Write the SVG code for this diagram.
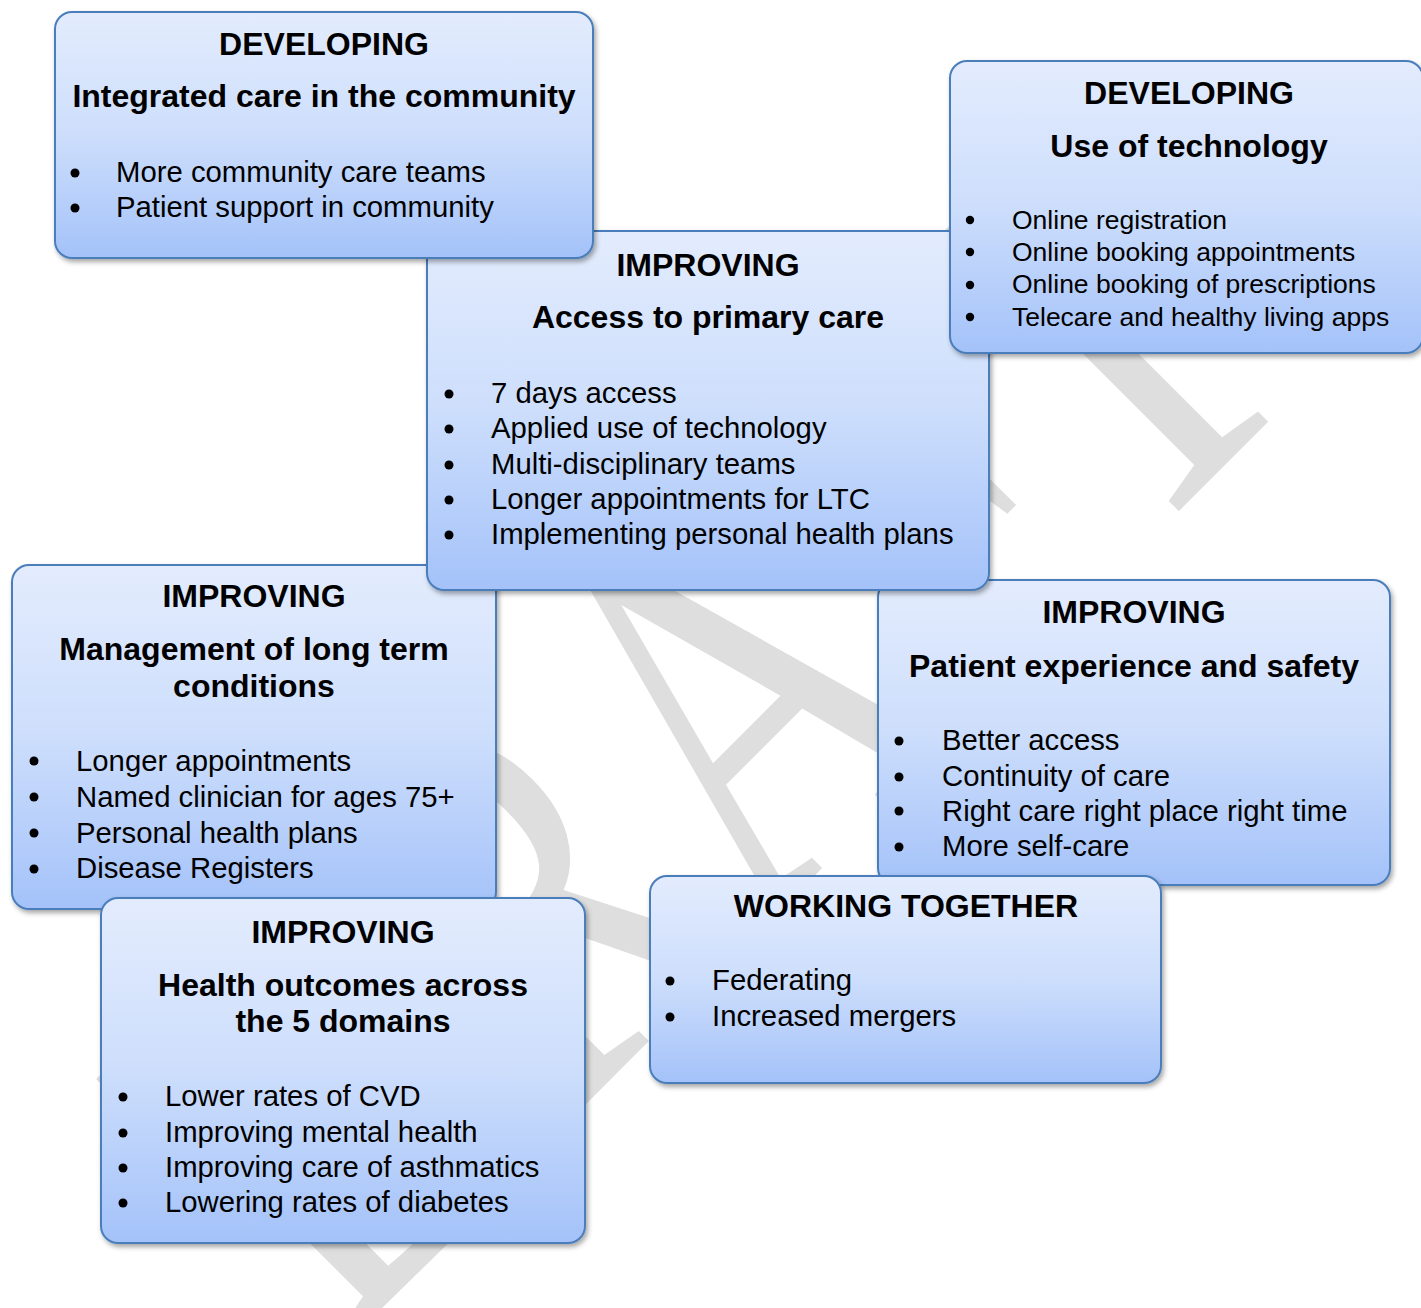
<svg xmlns="http://www.w3.org/2000/svg" width="1421" height="1308" viewBox="0 0 1421 1308">
  <defs>
    <linearGradient id="boxFill" x1="0" y1="0" x2="0" y2="1">
      <stop offset="0" stop-color="#e3ecfd"/>
      <stop offset="0.5" stop-color="#cddefc"/>
      <stop offset="1" stop-color="#a4c2f9"/>
    </linearGradient>
    <filter id="shadow" x="-5%" y="-5%" width="112%" height="115%">
      <feDropShadow dx="2" dy="3" stdDeviation="2.5" flood-color="#000" flood-opacity="0.35"/>
    </filter>
    <style>
      .box { fill: url(#boxFill); stroke: #4a7ebb; stroke-width: 2; filter: url(#shadow); }
      .head { font-family: "Liberation Sans", Arial, sans-serif; font-weight: bold; font-size: 32px; text-anchor: middle; fill: #000; }
      .item { font-family: "Liberation Sans", Arial, sans-serif; font-size: 29.3px; fill: #000; }
      .small { font-size: 26.5px; }
      .dot { fill: #000; }
      .mark { font-family: "Liberation Serif", "Times New Roman", serif; font-size: 418px; fill: #dedede; }
    </style>
  </defs>

  <rect width="1421" height="1308" fill="#fff"/>

  <!-- background watermark -->
  <text class="mark" transform="translate(345,1345) rotate(-45) scale(1,1.33)">DRAFT</text>

  <g id="connectors"/>

  <!-- Management of long term conditions -->
  <g id="node-ltc">
    <rect class="box" x="12" y="565" width="484" height="344" rx="17"/>
    <text class="head" x="254" y="607">IMPROVING</text>
    <text class="head" x="254" y="660">Management of long term</text>
    <text class="head" x="254" y="697">conditions</text>
    <circle class="dot" cx="34" cy="761" r="4.5"/>
    <circle class="dot" cx="34" cy="797" r="4.5"/>
    <circle class="dot" cx="34" cy="833" r="4.5"/>
    <circle class="dot" cx="34" cy="869" r="4.5"/>
    <text class="item" x="76" y="771">Longer appointments</text>
    <text class="item" x="76" y="807">Named clinician for ages 75+</text>
    <text class="item" x="76" y="843">Personal health plans</text>
    <text class="item" x="76" y="878">Disease Registers</text>
  </g>

  <!-- Patient experience and safety -->
  <g id="node-patient">
    <rect class="box" x="878" y="580" width="512" height="305" rx="17"/>
    <text class="head" x="1134" y="623">IMPROVING</text>
    <text class="head" x="1134" y="677">Patient experience and safety</text>
    <circle class="dot" cx="899" cy="741" r="4.5"/>
    <circle class="dot" cx="899" cy="777" r="4.5"/>
    <circle class="dot" cx="899" cy="811" r="4.5"/>
    <circle class="dot" cx="899" cy="847" r="4.5"/>
    <text class="item" x="942" y="750">Better access</text>
    <text class="item" x="942" y="786">Continuity of care</text>
    <text class="item" x="942" y="821">Right care right place right time</text>
    <text class="item" x="942" y="856">More self-care</text>
  </g>

  <!-- Access to primary care -->
  <g id="node-access">
    <rect class="box" x="427" y="231" width="562" height="359" rx="17"/>
    <text class="head" x="708" y="276">IMPROVING</text>
    <text class="head" x="708" y="328">Access to primary care</text>
    <circle class="dot" cx="449" cy="394" r="4.5"/>
    <circle class="dot" cx="449" cy="429" r="4.5"/>
    <circle class="dot" cx="449" cy="465" r="4.5"/>
    <circle class="dot" cx="449" cy="500" r="4.5"/>
    <circle class="dot" cx="449" cy="535" r="4.5"/>
    <text class="item" x="491" y="403">7 days access</text>
    <text class="item" x="491" y="438">Applied use of technology</text>
    <text class="item" x="491" y="474">Multi-disciplinary teams</text>
    <text class="item" x="491" y="509">Longer appointments for LTC</text>
    <text class="item" x="491" y="544">Implementing personal health plans</text>
  </g>

  <!-- Integrated care in the community -->
  <g id="node-community">
    <rect class="box" x="55" y="12" width="538" height="246" rx="17"/>
    <text class="head" x="324" y="55">DEVELOPING</text>
    <text class="head" x="324" y="107">Integrated care in the community</text>
    <circle class="dot" cx="75" cy="173" r="4.5"/>
    <circle class="dot" cx="75" cy="208" r="4.5"/>
    <text class="item" x="116" y="182">More community care teams</text>
    <text class="item" x="116" y="217">Patient support in community</text>
  </g>

  <!-- Use of technology -->
  <g id="node-technology">
    <rect class="box" x="950" y="61" width="473" height="292" rx="17"/>
    <text class="head" x="1189" y="104">DEVELOPING</text>
    <text class="head" x="1189" y="157">Use of technology</text>
    <circle class="dot" cx="970" cy="220" r="4.2"/>
    <circle class="dot" cx="970" cy="252" r="4.2"/>
    <circle class="dot" cx="970" cy="285" r="4.2"/>
    <circle class="dot" cx="970" cy="317" r="4.2"/>
    <text class="item small" x="1012" y="229">Online registration</text>
    <text class="item small" x="1012" y="261">Online booking appointments</text>
    <text class="item small" x="1012" y="293">Online booking of prescriptions</text>
    <text class="item small" x="1012" y="326">Telecare and healthy living apps</text>
  </g>

  <!-- Health outcomes across the 5 domains -->
  <g id="node-outcomes">
    <rect class="box" x="101" y="898" width="484" height="345" rx="17"/>
    <text class="head" x="343" y="943">IMPROVING</text>
    <text class="head" x="343" y="996">Health outcomes across</text>
    <text class="head" x="343" y="1032">the 5 domains</text>
    <circle class="dot" cx="123" cy="1097" r="4.5"/>
    <circle class="dot" cx="123" cy="1133" r="4.5"/>
    <circle class="dot" cx="123" cy="1168" r="4.5"/>
    <circle class="dot" cx="123" cy="1203" r="4.5"/>
    <text class="item" x="165" y="1106">Lower rates of CVD</text>
    <text class="item" x="165" y="1142">Improving mental health</text>
    <text class="item" x="165" y="1177">Improving care of asthmatics</text>
    <text class="item" x="165" y="1212">Lowering rates of diabetes</text>
  </g>

  <!-- Working together -->
  <g id="node-together">
    <rect class="box" x="650" y="876" width="511" height="207" rx="17"/>
    <text class="head" x="906" y="917">WORKING TOGETHER</text>
    <circle class="dot" cx="670" cy="981" r="4.5"/>
    <circle class="dot" cx="670" cy="1017" r="4.5"/>
    <text class="item" x="712" y="990">Federating</text>
    <text class="item" x="712" y="1026">Increased mergers</text>
  </g>
</svg>
